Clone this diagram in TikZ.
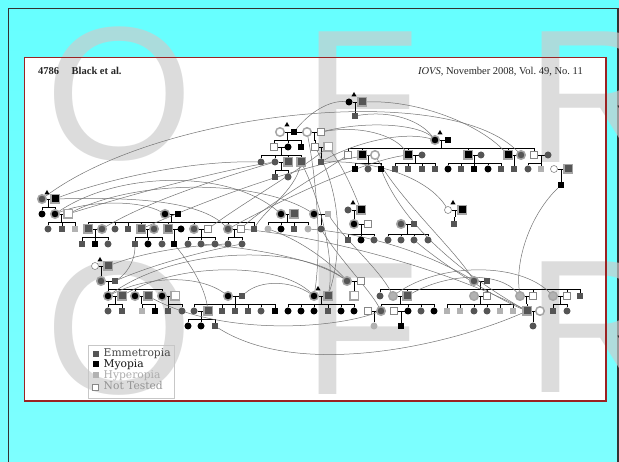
\documentclass[tikz,border=0pt]{standalone}
\usepackage{fontspec}
\setmainfont{Liberation Serif}
\newfontfamily\markfont{Liberation Sans}
\newfontfamily\legfont{DejaVu Serif}
\usetikzlibrary{calc,shapes.geometric}
\definecolor{emg}{RGB}{85,85,85}
\definecolor{hyg}{RGB}{178,178,178}
\definecolor{ntg}{RGB}{135,135,135}
\definecolor{rgc}{RGB}{165,165,165}
\definecolor{frm}{RGB}{155,35,35}
\definecolor{sky}{RGB}{102,255,255}
\definecolor{skylo}{RGB}{125,255,255}
\pgfdeclarelayer{bg}\pgfdeclarelayer{ties}\pgfsetlayers{bg,ties,main}
% one row of persons: prefix, y, list of x/type
\newcommand\kin[3]{\foreach\x/\s in{#3}{\node[\s](#1-\x)at(\x,#2){};}}
% couple #1,#2 with sibship bar at y=#3 over the children #4
\newcommand\sibs[4]{\draw[tie](#1)--(#2);\coordinate(mid)at($(#1)!.5!(#2)$);\coordinate(bar)at(0,#3);
\draw[tie](mid)--(mid|-bar);\foreach\kid in{#4}{\draw[tie](\kid)--(\kid|-bar)--(mid|-bar);}}

\begin{document}
\begin{tikzpicture}[x=1pt,y=-1pt,
pers/.style={inner sep=0pt,outer sep=0pt,minimum size=6.5pt},
M/.style={pers,rectangle},F/.style={pers,circle,minimum size=7pt},
Me/.style={M,fill=emg},Mm/.style={M,fill=black},Mh/.style={M,fill=hyg},Mn/.style={M,fill=white,draw=ntg,line width=.6pt},
Fe/.style={F,fill=emg},Fm/.style={F,fill=black},Fh/.style={F,fill=hyg},Fn/.style={F,fill=white,draw=ntg,line width=.6pt},
ring/.style={draw=rgc,line width=1.5pt,minimum size=8.5pt},
MeR/.style={Me,ring},MmR/.style={Mm,ring},MnR/.style={Mn,ring},
FeR/.style={Fe,ring},FmR/.style={Fm,ring},FhR/.style={Fh,ring},FnR/.style={Fn,ring},
tri/.style={regular polygon,regular polygon sides=3,fill=black,inner sep=0pt,minimum size=6pt},
tie/.style={line width=.7pt},
loopline/.style={draw=black!55,line width=.5pt},
wmark/.style={font={\markfont\fontsize{190}{190}\selectfont},text=black!20,opacity=.67,anchor=base west,inner sep=0pt},
hdr/.style={font=\fontsize{10.5}{12}\selectfont,text=black!85,inner sep=0pt},
legtext/.style={font={\legfont\fontsize{10.7}{11}\selectfont},inner sep=0pt,text height=7.8pt,text depth=2.2pt}]
\useasboundingbox(0,0)rectangle(619,462);
\begin{pgfonlayer}{bg}
\shade[top color=sky,bottom color=skylo](0,0)rectangle(619,462);
\draw[black!80,line width=1.4pt](8.7,470)--(8.7,8.7)--(617.9,8.7)--(617.9,470);
\fill[white](24.5,57.5)rectangle(606,401);
\foreach\ch/\x/\y in{O/45.7/160,F/303/163,R/526/163,O/45.7/394,F/303/395,R/526/393}{\node[wmark](wm-\ch-\y)at(\x,\y){\ch};}
\draw[frm,line width=1.2pt](24.5,57.5)rectangle(606,401);
\end{pgfonlayer}
\node[hdr,anchor=base west](runhead)at(38,75){\textbf{4786}\hspace{12.5pt}\textbf{Black et al.}};
\node[hdr,anchor=base east](journal)at(583,75){\textit{IOVS}, November 2008, Vol.~49, No.~11};
% top families
\kin{a1}{102}{349/Fm,362/MeR}\kin{a2}{116}{355/Me}\node[tri](tA)at(354,95){};
\kin{b1}{132}{280/FnR,294/Mm,307/FnR,321/Mn}\node[tri](tB)at(287,125){};
\kin{b2}{147}{274/Mn,288/Fm,301/Mm,315/Mn,328/MnR}
\kin{b3}{162}{261/Fe,275/Fe,288/MeR,301/MeR,321/Me}
\kin{b4}{177}{275/Me,288/Fe}
\kin{c1}{140}{435/FmR,448/Mm}\node[tri](tC)at(440,133){};
\kin{c2}{155}{348/Mn,362/MmR,375/FnR,408/MmR,422/Fe,468/MmR,481/Fe,508/MmR,521/FeR,534/Mn,548/Fe}
\kin{c3}{169}{355/Mm,368/Fe,381/Mm,395/Me,408/Me,422/Me,435/Me,448/Fm,461/Me,474/Mm,488/Fm,501/Me,514/Me,528/Fe,541/Mh,554/Fn,568/MeR}
\kin{c4}{185}{561/Mm}
% middle families
\kin{d1}{199}{42/FeR,55/MmR}\node[tri](tD)at(47,193){};
\kin{d2}{214}{42/Fm,55/FmR,68/MnR}
\kin{u2}{214}{165/FmR,178/Mm,281/FmR,294/MeR,314/FmR,328/Mh}
\kin{u3}{229}{48/Fe,62/Me,75/Mh,88/MeR,102/FeR,115/Fe,128/Me,141/MeR,154/FeR,168/MeR,181/Fm,194/FeR,208/Mn,228/FeR,241/Mn,254/Me,268/Fh,281/Fm,294/Me,308/Fh,321/Fe}
\kin{u4}{244}{82/Me,95/Mm,108/Fe,135/Me,148/Fm,162/Fe,174/Mm,188/Fe,201/Fe,215/Fe,228/Fe,242/Fe}
\kin{f1}{210}{348/Fe,361/MmR}\node[tri](tF)at(353,203){};
\kin{f2}{224}{354/FmR,368/Mn,401/FeR,414/Me}
\kin{f3}{240}{348/Me,361/Fm,374/Fe,388/Fe,401/Fe,414/Fe,428/Fe}
\kin{g1}{210}{448/Fn,462/MmR}\kin{g2}{224}{454/Me}\node[tri](tG)at(453,203){};
% lower families
\kin{h1}{266}{95/Fn,108/MeR}\node[tri](tH)at(100,260){};
\kin{l2}{281}{101/FeR,115/Me,347/FeR,361/Mn,474/FeR,487/Me}
\kin{l3}{296}{108/FmR,122/MeR,135/FmR,148/MeR,162/FmR,175/MnR,228/FmR,242/Me,314/FmR,328/MeR,354/MnR,380/Fe,393/FhR,407/MeR,474/FhR,487/Mn,520/FhR,533/Mn,553/FhR,567/Mn,580/Me}
\node[tri](tL)at(318,289){};
\kin{l4}{311}{108/Fe,122/Me,142/Mh,155/Mm,168/Me,182/Fe,194/Fe,208/MeR,222/Me,235/Me,248/Me,261/Fe,275/Mm,288/Fm,301/Fm,314/Fm,328/Me,341/Fm,354/Fm,368/Mn,381/FeR,394/Mn,408/Fm,421/Fe,434/Fm,447/Mh,460/Mh,474/Fe,487/Fe,500/Mh,513/Mh,527/MeR,540/FnR,553/Me,567/Fe}
\kin{l5}{326}{188/Fm,201/Fm,215/Me,374/Fh,401/Mm,533/Fe}
% legend
\node[draw=black!22,line width=.6pt,minimum width=86pt,minimum height=53pt,inner sep=0pt,anchor=north west](legbox)at(88,345){};
\foreach\s/\lab/\col/\y[count=\i]in{Me/Emmetropia/black!72/354,Mm/Myopia/black!92/364.5,Mh/Hyperopia/black!32/375.5,Mn/Not Tested/black!42/387}{\node[\s,minimum size=6pt](key\i)at(95.5,\y){};\node[legtext,text=\col,anchor=west](lab\i)at(103.5,\y){\lab};}
\begin{pgfonlayer}{ties}
\sibs{a1-349}{a1-362}{109}{a2-355}
\sibs{b1-280}{b1-294}{140}{b2-274,b2-288,b2-301}\draw[tie](b1-294)--(b1-307);
\sibs{b1-307}{b1-321}{140}{b2-315}
\sibs{b2-274}{b2-288}{155}{b3-261,b3-275,b3-288,b3-301}
\sibs{b2-315}{b2-328}{155}{b3-321}
\sibs{b3-275}{b3-288}{170}{b4-275,b4-288}
\sibs{c1-435}{c1-448}{148}{c2-348,c2-362,c2-408,c2-468,c2-508,c2-534}
\sibs{c2-362}{c2-375}{163}{c3-355,c3-368,c3-381}
\sibs{c2-408}{c2-422}{163}{c3-395,c3-408,c3-422,c3-435}
\sibs{c2-468}{c2-481}{163}{c3-448,c3-461,c3-474,c3-488,c3-501}
\sibs{c2-508}{c2-521}{163}{c3-514}
\sibs{c2-534}{c2-548}{163}{c3-528,c3-541}
\sibs{c3-554}{c3-568}{177}{c4-561}
\sibs{d1-42}{d1-55}{207}{d2-42,d2-55}
\sibs{d2-55}{d2-68}{222}{u3-48,u3-62,u3-75}
\sibs{u2-165}{u2-178}{222}{u3-88,u3-115,u3-128,u3-141,u3-168,u3-194,u3-228,u3-254}
\sibs{u2-281}{u2-294}{222}{u3-268,u3-281,u3-294,u3-308}
\sibs{u2-314}{u2-328}{222}{u3-321}
\sibs{u3-88}{u3-102}{237}{u4-82,u4-95,u4-108}
\sibs{u3-141}{u3-154}{237}{u4-135,u4-148,u4-162}
\sibs{u3-168}{u3-181}{237}{u4-174}
\sibs{u3-194}{u3-208}{237}{u4-188,u4-201,u4-215}
\sibs{u3-228}{u3-241}{237}{u4-228,u4-242}
\sibs{f1-348}{f1-361}{217}{f2-354}
\sibs{f2-354}{f2-368}{234}{f3-348,f3-361,f3-374}
\sibs{f2-401}{f2-414}{234}{f3-388,f3-401,f3-414,f3-428}
\sibs{g1-448}{g1-462}{217}{g2-454}
\sibs{h1-95}{h1-108}{274}{l2-101}
\sibs{l2-101}{l2-115}{289}{l3-108,l3-135,l3-162}
\sibs{l3-108}{l3-122}{304}{l4-108,l4-122}
\sibs{l3-135}{l3-148}{304}{l4-142,l4-155}
\sibs{l3-162}{l3-175}{304}{l4-168,l4-182}
\sibs{l3-228}{l3-242}{304}{l4-194,l4-222,l4-235,l4-248,l4-261,l4-275}
\sibs{l4-194}{l4-208}{319}{l5-188,l5-201,l5-215}
\sibs{l3-314}{l3-328}{304}{l4-288,l4-301,l4-314,l4-328,l4-341,l4-354}
\sibs{l2-347}{l2-361}{289}{l3-354}
\sibs{l2-474}{l2-487}{289}{l3-380,l3-407,l3-487,l3-533,l3-567,l3-580}
\sibs{l3-393}{l3-407}{304}{l4-381,l4-408,l4-421,l4-434}
\sibs{l4-368}{l4-381}{319}{l5-374}
\sibs{l4-394}{l4-408}{319}{l5-401}
\sibs{l3-474}{l3-487}{304}{l4-447,l4-460,l4-474,l4-487,l4-500,l4-513}
\sibs{l3-520}{l3-533}{304}{l4-527}
\sibs{l3-553}{l3-567}{304}{l4-553,l4-567}
\sibs{l4-527}{l4-540}{319}{l5-533}
% loops between the families
\draw[loopline](d1-42)..controls(160,110)and(450,80)..(c2-521);
\draw[loopline](a1-362)..controls(420,100)and(480,125)..(c2-508);
\draw[loopline](a2-355)..controls(390,110)and(420,120)..(c1-435);
\draw[loopline](b1-294)..controls(310,112)and(330,100)..(a1-349);
\draw[loopline](b1-321)..controls(360,125)and(395,135)..(c2-408);
\draw[loopline](b1-321)..controls(370,120)and(420,125)..(c1-435);
\draw[loopline](c2-375)..controls(400,200)and(455,250)..(l2-474);
\draw[loopline](c3-381)..controls(410,240)and(490,290)..(l4-527);
\draw[loopline](c4-561)..controls(530,215)and(515,260)..(l3-520);
\draw[loopline](b3-321)..controls(380,160)and(430,180)..(g1-448);
\draw[loopline](b3-301)..controls(320,200)and(335,260)..(l3-328);
\draw[loopline](b1-307)..controls(320,200)and(320,260)..(l3-314);
\draw[loopline](b2-315)..controls(345,200)and(340,260)..(l3-328);
\draw[loopline](b2-328)..controls(345,170)and(355,195)..(f1-361);
\draw[loopline](b3-261)..controls(180,160)and(90,185)..(d1-55);
\draw[loopline](b3-275)..controls(230,175)and(150,200)..(u3-102);
\draw[loopline](b3-301)..controls(295,190)and(265,210)..(u3-254);
\draw[loopline](b2-328)..controls(300,170)and(240,205)..(u3-208);
\draw[loopline](c1-435)..controls(400,130)and(350,145)..(b3-321);
\draw[loopline](c2-348)..controls(310,180)and(260,210)..(u3-241);
\draw[loopline](u3-141)..controls(230,190)and(320,160)..(c2-375);
\draw[loopline](u3-228)..controls(300,190)and(370,160)..(c2-408);
\draw[loopline](d2-55)..controls(120,170)and(230,170)..(u2-281);
\draw[loopline](d2-68)..controls(140,178)and(260,180)..(u2-314);
\draw[loopline](d1-55)..controls(130,197)and(200,200)..(u3-228);
\draw[loopline](d2-68)..controls(130,195)and(220,170)..(b3-275);
\draw[loopline](d2-55)..controls(90,200)and(140,200)..(u2-165);
\draw[loopline](h1-108)..controls(150,250)and(200,245)..(u4-228);
\draw[loopline](l2-115)..controls(160,262)and(210,250)..(u4-242);
\draw[loopline](l3-108)..controls(180,245)and(300,245)..(l2-347);
\draw[loopline](l3-122)..controls(180,262)and(280,262)..(l3-314);
\draw[loopline](l3-108)..controls(150,275)and(200,275)..(l3-228);
\draw[loopline](l3-148)..controls(220,335)and(330,330)..(l4-381);
\draw[loopline](u4-135)..controls(135,262)and(125,275)..(l2-115);
\draw[loopline](u4-174)..controls(195,270)and(205,290)..(l4-208);
\draw[loopline](l5-215)..controls(300,380)and(450,345)..(l4-527);
\draw[loopline](u3-241)..controls(350,240)and(470,280)..(l4-527);
\draw[loopline](u3-308)..controls(380,235)and(440,260)..(l2-474);
\draw[loopline](u2-328)..controls(345,240)and(380,270)..(l3-393);
\draw[loopline](l3-393)..controls(440,262)and(520,262)..(l3-553);
\draw[loopline](l3-407)..controls(450,272)and(500,272)..(l3-520);
\draw[loopline](u4-201)..controls(270,250)and(320,262)..(l2-347);
\draw[loopline](u3-268)..controls(300,240)and(330,262)..(l2-347);
\draw[loopline](l3-242)..controls(260,280)and(290,280)..(l3-314);
\draw[loopline](u3-321)..controls(340,260)and(370,290)..(l4-381);
\draw[loopline](f3-414)..controls(450,270)and(500,300)..(l4-527);
\end{pgfonlayer}
\end{tikzpicture}
\end{document}
